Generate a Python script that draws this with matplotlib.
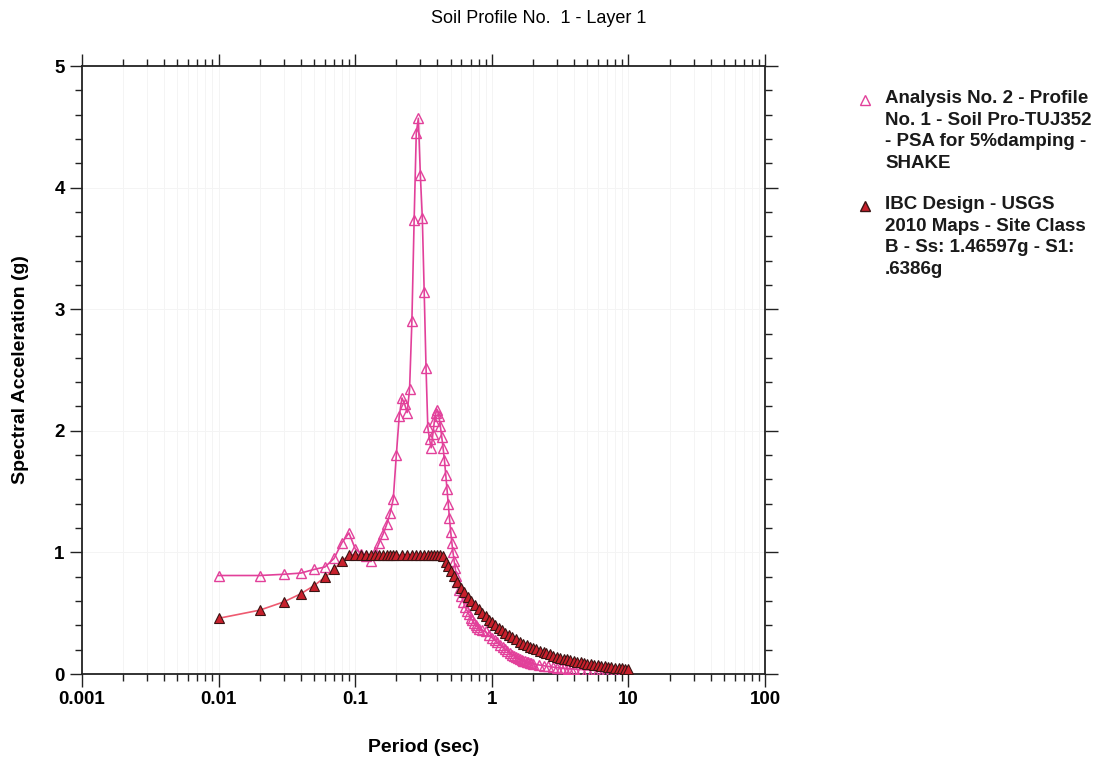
#!/usr/bin/env python3
# Response spectrum: SHAKE PSA vs IBC design spectrum, log period axis.
import matplotlib
matplotlib.use("Agg")
import matplotlib.pyplot as plt
from matplotlib.lines import Line2D
from matplotlib.ticker import LogLocator, MultipleLocator, FixedFormatter, FixedLocator

# values (period in s, Sa in g)
shake_T = [0.01, 0.02, 0.03, 0.04, 0.05, 0.06, 0.07, 0.08, 0.09, 0.10,
           0.11, 0.12, 0.13, 0.14, 0.15, 0.16, 0.17, 0.18, 0.19, 0.20,
           0.21, 0.22, 0.23, 0.24, 0.25, 0.26, 0.27, 0.28, 0.29, 0.30,
           0.31, 0.32, 0.33, 0.34, 0.35, 0.36, 0.37, 0.38, 0.39, 0.40,
           0.41, 0.42, 0.43, 0.44, 0.45, 0.46, 0.47, 0.48, 0.49, 0.50,
           0.51, 0.52, 0.53, 0.54, 0.55, 0.56, 0.58, 0.60, 0.62, 0.64,
           0.66, 0.68, 0.70, 0.72, 0.74, 0.76, 0.78, 0.80, 0.85, 0.90,
           0.95, 1.00, 1.05, 1.10, 1.15, 1.20, 1.25, 1.30, 1.35, 1.40,
           1.45, 1.50, 1.55, 1.60, 1.65, 1.70, 1.75, 1.80, 1.85, 1.90,
           1.95, 2.0, 2.2, 2.4, 2.6, 2.8, 3.0, 3.2, 3.4, 3.6,
           3.8, 4.0, 4.5, 5.0, 5.5, 6.0, 6.5, 7.0, 7.5, 8.0,
           8.5, 9.0, 9.5, 10.0]
shake_Sa = [0.81, 0.81, 0.82, 0.83, 0.86, 0.88, 0.95, 1.08, 1.16, 1.03,
            0.99, 0.97, 0.93, 1.00, 1.08, 1.15, 1.23, 1.32, 1.44, 1.80,
            2.12, 2.27, 2.22, 2.15, 2.34, 2.90, 3.73, 4.45, 4.57, 4.10,
            3.75, 3.14, 2.52, 2.03, 1.93, 1.86, 1.97, 2.08, 2.15, 2.17,
            2.12, 2.04, 1.95, 1.86, 1.76, 1.64, 1.52, 1.40, 1.28, 1.17,
            1.08, 1.00, 0.93, 0.87, 0.81, 0.76, 0.69, 0.64, 0.59, 0.55,
            0.52, 0.49, 0.46, 0.44, 0.42, 0.40, 0.39, 0.37, 0.36, 0.35,
            0.32, 0.30, 0.28, 0.26, 0.24, 0.22, 0.205, 0.19, 0.175, 0.16,
            0.15, 0.14, 0.13, 0.12, 0.115, 0.11, 0.105, 0.10, 0.095, 0.09,
            0.087, 0.084, 0.075, 0.068, 0.062, 0.057, 0.053, 0.050, 0.047, 0.045,
            0.043, 0.041, 0.037, 0.034, 0.031, 0.029, 0.027, 0.025, 0.023, 0.022,
            0.020, 0.019, 0.018, 0.017]

ibc_T = [0.01, 0.02, 0.03, 0.04, 0.05, 0.06, 0.07, 0.08, 0.09,
         0.10, 0.11, 0.12, 0.13, 0.14, 0.15, 0.16, 0.17, 0.18, 0.19,
         0.20, 0.22, 0.24, 0.26, 0.28, 0.30, 0.32, 0.34, 0.36, 0.38,
         0.40, 0.42, 0.44, 0.46, 0.48, 0.50, 0.53, 0.56, 0.60, 0.63,
         0.67, 0.71, 0.75, 0.80, 0.85, 0.90, 0.95, 1.0, 1.06, 1.12,
         1.18, 1.25, 1.33, 1.41, 1.5, 1.6, 1.7, 1.8, 1.9, 2.0,
         2.1, 2.25, 2.4, 2.5, 2.65, 2.8, 3.0, 3.15, 3.35, 3.55,
         3.75, 4.0, 4.2, 4.5, 4.75, 5.0, 5.3, 5.6, 6.0, 6.3,
         6.7, 7.1, 7.5, 8.0, 8.5, 9.0, 9.5, 10.0]
ibc_Sa = [0.458, 0.525, 0.593, 0.660, 0.727, 0.795, 0.862, 0.929, 0.977,
          0.977, 0.977, 0.977, 0.977, 0.977, 0.977, 0.977, 0.977, 0.977, 0.977,
          0.977, 0.977, 0.977, 0.977, 0.977, 0.977, 0.977, 0.977, 0.977, 0.977,
          0.977, 0.977, 0.968, 0.925, 0.887, 0.851, 0.803, 0.760, 0.710, 0.676,
          0.635, 0.600, 0.568, 0.532, 0.501, 0.473, 0.448, 0.426, 0.402, 0.380,
          0.361, 0.341, 0.320, 0.302, 0.284, 0.266, 0.250, 0.237, 0.224, 0.213,
          0.203, 0.189, 0.177, 0.170, 0.161, 0.152, 0.142, 0.135, 0.127, 0.120,
          0.114, 0.106, 0.101, 0.095, 0.090, 0.085, 0.080, 0.076, 0.071, 0.068,
          0.064, 0.060, 0.057, 0.053, 0.050, 0.047, 0.045, 0.043]

x_ticks = [0.001, 0.01, 0.1, 1, 10, 100]
x_ticklabels = ["0.001", "0.01", "0.1", "1", "10", "100"]

shake_label = "Analysis No. 2 - Profile\nNo. 1 - Soil Pro-TUJ352\n- PSA for 5%damping -\nSHAKE"
ibc_label = "IBC Design - USGS\n2010 Maps - Site Class\nB - Ss: 1.46597g - S1:\n.6386g"

PINK = "#e2409a"
RED = "#c8202c"

plt.rcParams["font.family"] = ["Liberation Sans", "DejaVu Sans"]

fig = plt.figure(figsize=(11.02, 7.64), dpi=100)
fig.patch.set_facecolor("white")
ax = fig.add_axes([0.0744, 0.1178, 0.6198, 0.7958])

ax.plot(shake_T, shake_Sa, color=PINK, lw=1.2, marker="^", ms=7.5,
        mfc="none", mec=PINK, mew=1.0, zorder=3)
ax.plot(ibc_T, ibc_Sa, color="#ee5a70", lw=1.2, marker="^", ms=7.5,
        mfc=RED, mec="#3a1414", mew=0.8, zorder=4)

ax.set_xscale("log")
ax.set_xlim(0.001, 100)
ax.set_ylim(0, 5)
ax.xaxis.set_major_locator(FixedLocator(x_ticks))
ax.xaxis.set_major_formatter(FixedFormatter(x_ticklabels))
ax.xaxis.set_minor_locator(LogLocator(base=10, subs=range(2, 10)))
ax.xaxis.set_minor_formatter(plt.NullFormatter())
ax.yaxis.set_major_locator(MultipleLocator(1))
ax.yaxis.set_minor_locator(MultipleLocator(0.2))

ax.tick_params(which="both", direction="out", top=True, right=True,
               width=1.0, color="#222222")
ax.tick_params(which="major", length=9, labelsize=13.5)
ax.tick_params(which="minor", length=5)
for lab in ax.get_xticklabels() + ax.get_yticklabels():
    lab.set_fontweight("bold")
for s in ax.spines.values():
    s.set_linewidth(1.3)
    s.set_color("#222222")

ax.grid(which="both", axis="x", color="#f4f4f4", lw=0.7)
ax.grid(which="major", axis="y", color="#f4f4f4", lw=0.7)

ax.set_xlabel("Period (sec)", fontsize=14, fontweight="bold", labelpad=22)
ax.set_ylabel("Spectral Acceleration (g)", fontsize=14, fontweight="bold", labelpad=18)
fig.text(0.489, 0.976, "Soil Profile No.  1 - Layer 1", ha="center", va="center",
         fontsize=13)

# legend drawn by hand so the marker sits on the first text line
for y_px, mfc, mec, label in [(100, "none", PINK, shake_label),
                              (206, RED, "#3a1414", ibc_label)]:
    fig.add_artist(Line2D([865 / 1102], [1 - y_px / 764], transform=fig.transFigure,
                          marker="^", ms=7, mfc=mfc, mec=mec, ls="none"))
    fig.text(885 / 1102, 1 - (y_px - 10) / 764, label, ha="left", va="top",
             fontsize=13.5, fontweight="bold", linespacing=1.36, color="#1a1a1a")

fig.savefig("out.png", dpi=100, facecolor="white")
